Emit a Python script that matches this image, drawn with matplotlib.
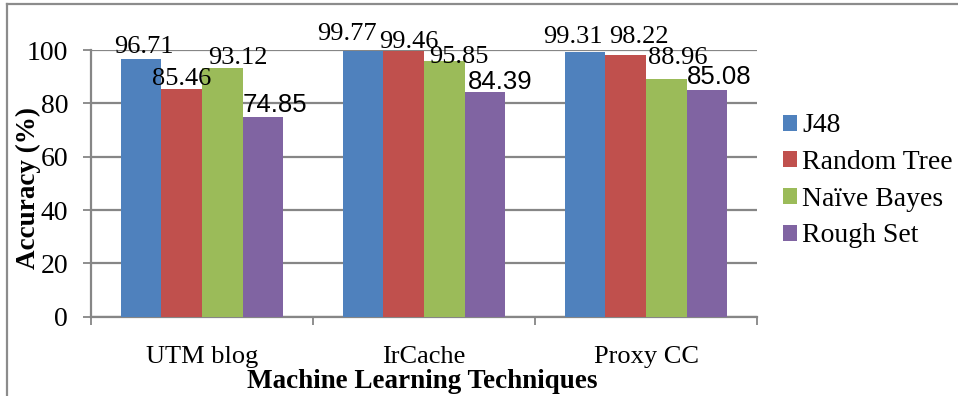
import matplotlib.pyplot as plt
from matplotlib.lines import Line2D
import numpy as np

categories = ['UTM blog', 'IrCache', 'Proxy CC']
series = ['J48', 'Random Tree', 'Naïve Bayes', 'Rough Set']
j48 = [96.71, 99.77, 99.31]
random_tree = [85.46, 99.46, 98.22]
naive_bayes = [93.12, 95.85, 88.96]
rough_set = [74.85, 84.39, 85.08]
values = [j48, random_tree, naive_bayes, rough_set]

colors = ['#4F81BD', '#C0504D', '#9BBB59', '#8064A2']
grid_c = '#868686'

# label nudges in pixels (dx, dy above bar top), hand placed like the original
nudge = [
    [(3, 6), (-16, 11), (-12, 9)],
    [(0, 4), (5, 3), (13, 12)],
    [(16, 4), (14, -2), (11, 15)],
    [(0, 5), (3, 3), (0, 6)],
]

plt.rcParams['font.family'] = ['Liberation Serif', 'DejaVu Serif']

fig = plt.figure(figsize=(9.58, 3.96), dpi=100)
ax = fig.add_axes([91 / 958, 1 - 316.7 / 396, 666 / 958, 266.7 / 396])

x = np.arange(len(categories))
w = 0.183
for i in range(len(series)):
    pos = x + (i - 1.5) * w
    ax.bar(pos, values[i], width=w, color=colors[i], label=series[i],
           zorder=3, clip_on=False)
    for k in range(len(categories)):
        dx, dy = nudge[i][k]
        txt = '%.2f' % values[i][k]
        if i == 3:
            ax.annotate(txt, (pos[k] - w / 2, values[i][k]), xytext=(dx, dy),
                        textcoords='offset pixels', ha='left', va='baseline',
                        fontsize=18.5, family='Liberation Sans', zorder=5)
        else:
            ax.annotate(txt, (pos[k], values[i][k]), xytext=(dx, dy),
                        textcoords='offset pixels', ha='center', va='baseline',
                        fontsize=19, zorder=5)

ax.set_xlim(-0.5, 2.5)
ax.set_ylim(0, 100)
ax.set_yticks([0, 20, 40, 60, 80, 100])
ax.grid(axis='y', color=grid_c, linewidth=1.6, zorder=0)
ax.tick_params(axis='y', labelsize=20, length=6, width=1.3, color=grid_c,
               pad=10.5, direction='out')
ax.set_xticks(x)
ax.set_xticklabels(categories)
ax.tick_params(axis='x', which='major', length=0, labelsize=19, pad=21)
ax.set_xticks([-0.5, 0.5, 1.5, 2.5], minor=True)
ax.tick_params(axis='x', which='minor', length=6, width=1.3, color=grid_c,
               direction='out')
for s in ['top', 'right']:
    ax.spines[s].set_visible(False)
for s in ['left', 'bottom']:
    ax.spines[s].set_color(grid_c)
    ax.spines[s].set_linewidth(1.6)

fig.text(28 / 958, 1 - 188 / 396, 'Accuracy (%)', rotation=90, ha='center',
         va='center', fontsize=19.5, fontweight='bold')
fig.text(422 / 958, 1 - 381 / 396, 'Machine Learning Techniques',
         ha='center', va='center', fontsize=19.5, fontweight='bold')

fig.legend(loc='center left', bbox_to_anchor=(783 / 958, 1 - 181 / 396),
           frameon=False, fontsize=20, handlelength=0.5, handleheight=0.5,
           handletextpad=0.2, labelspacing=0.42, borderpad=0, borderaxespad=0)

# outer frame (only top and left visible in the original crop)
fig.add_artist(Line2D([6.7 / 958, 6.7 / 958], [0, 1 - 4 / 396],
                      transform=fig.transFigure, color='#8C8C8C', lw=1.6))
fig.add_artist(Line2D([6.7 / 958, 1], [1 - 4 / 396, 1 - 4 / 396],
                      transform=fig.transFigure, color='#8C8C8C', lw=1.6))

fig.savefig('out.png', dpi=100)
